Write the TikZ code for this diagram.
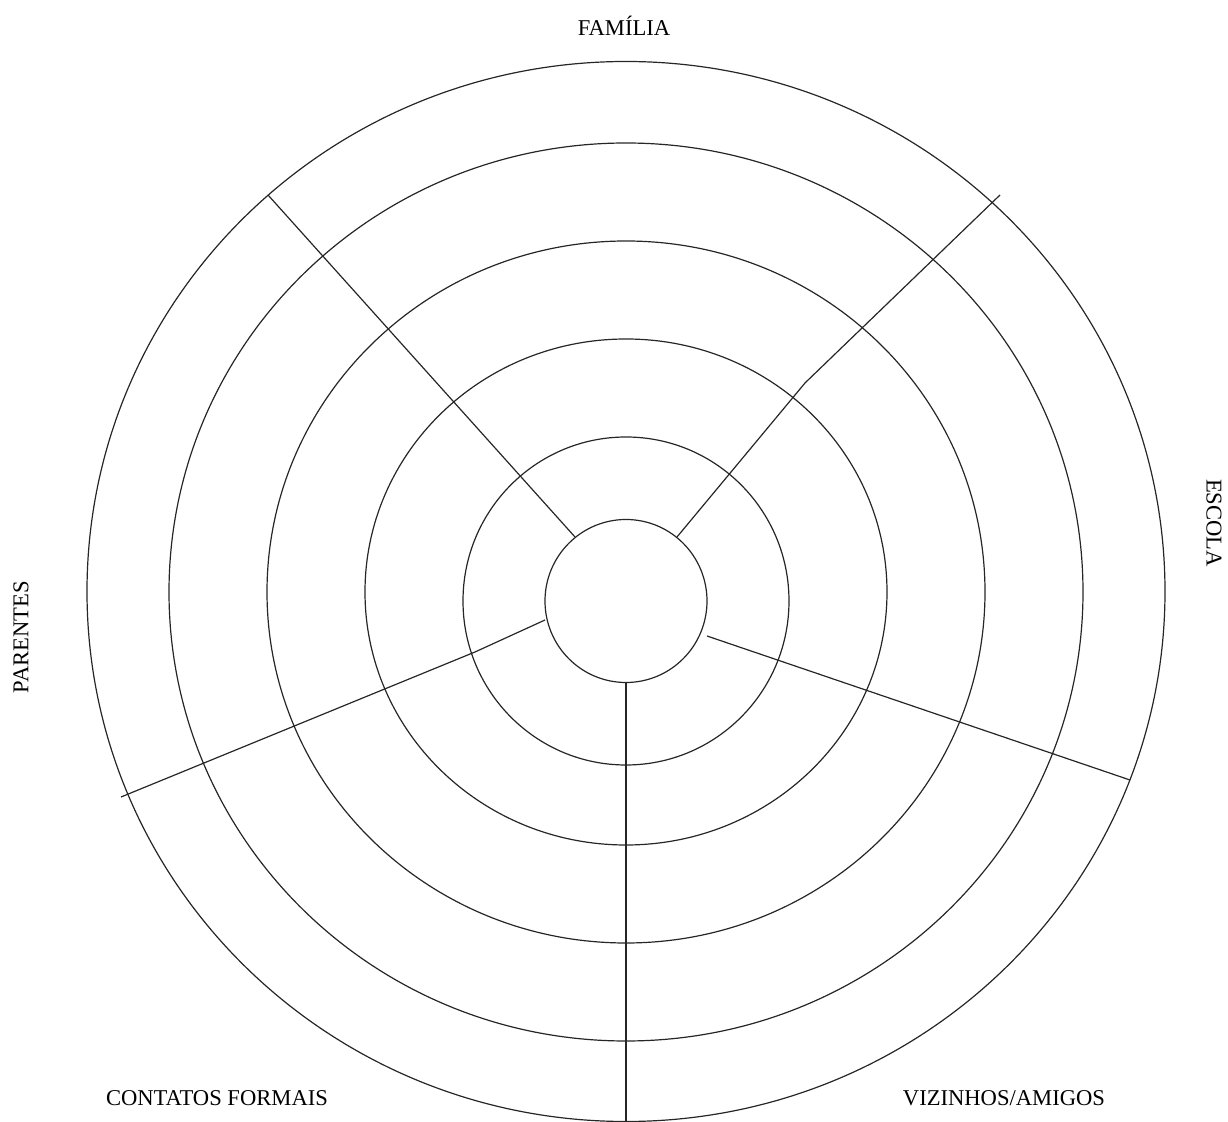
\documentclass[tikz,border=0pt]{standalone}
\usepackage{fontspec}
\setmainfont{Liberation Serif}
\begin{document}
\begin{tikzpicture}[x=0.5pt,y=-0.5pt,
  ring/.style={draw=black!85,line width=0.6pt},
  spoke/.style={draw=black!85,line width=0.6pt},
  lab/.style={font=\fontsize{11.3}{13}\selectfont,inner sep=0pt}]
\useasboundingbox (0,0) rectangle (1228,1122);
% rings
\draw[ring] (626,601) ellipse [x radius=40.5pt, y radius=40.75pt];
\draw[ring] (626,601) ellipse [x radius=81.5pt, y radius=82pt];
\draw[ring] (626,592) ellipse [x radius=130.5pt, y radius=126.5pt];
\draw[ring] (626,592) ellipse [x radius=179.5pt, y radius=175.5pt];
\draw[ring] (626,592) ellipse [x radius=228.5pt, y radius=224.5pt];
\draw[ring] (626,591.5) ellipse [x radius=269.5pt, y radius=265pt];
% spoke coordinates
\coordinate (ulA) at (575,537);
\coordinate (ulB) at (268,195);
\coordinate (urA) at (677,537);
\coordinate (urK) at (805,383);
\coordinate (urB) at (1000,195);
\coordinate (lrA) at (707,636);
\coordinate (lrB) at (1130,780);
\coordinate (llA) at (545,620);
\coordinate (llK) at (475,652);
\coordinate (llB) at (121,797);
\coordinate (bA) at (626,683);
\coordinate (bB) at (626,1122);
\draw[spoke] (ulA) -- (ulB);
\draw[spoke] (urA) -- (urK) -- (urB);
\draw[spoke] (lrA) -- (lrB);
\draw[spoke] (llA) -- (llK) -- (llB);
\draw[spoke] (bA) -- (bB);
% labels
\node[lab] (familia) at (624,26) {FAMÍLIA};
\node[lab,rotate=-90] (escola) at (1214,523) {ESCOLA};
\node[lab,rotate=90] (parentes) at (21,637) {PARENTES};
\node[lab] (contatos) at (217,1098) {CONTATOS FORMAIS};
\node[lab] (vizinhos) at (1004,1098) {VIZINHOS/AMIGOS};
\end{tikzpicture}
\end{document}
